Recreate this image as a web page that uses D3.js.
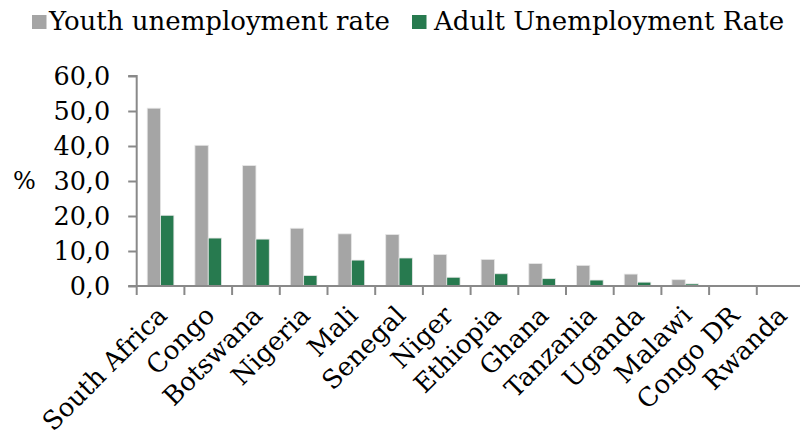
<!DOCTYPE html>
<html>
<head>
<meta charset="utf-8">
<script src="https://cdn.jsdelivr.net/npm/d3@7"></script>
<style>
  html, body { margin: 0; padding: 0; background: #fff; }
  svg { display: block; }
  text { font-family: "DejaVu Serif", Georgia, serif; fill: #000; }
</style>
</head>
<body>
<svg id="chart" width="800" height="439"></svg>
<script>
const categories = ["South Africa", "Congo", "Botswana", "Nigeria", "Mali", "Senegal", "Niger",
  "Ethiopia", "Ghana", "Tanzania", "Uganda", "Malawi", "Congo DR", "Rwanda"];
const seriesNames = ["Youth unemployment rate", "Adult Unemployment Rate"];
const youth = [50.8, 40.2, 34.4, 16.5, 14.9, 14.7, 9.0, 7.6, 6.4, 5.9, 3.4, 1.8, 0.0, 0.0];
const adult = [20.2, 13.7, 13.4, 3.0, 7.4, 8.0, 2.5, 3.5, 2.1, 1.7, 1.1, 0.6, 0.0, 0.0];
const yTicks = [0, 10, 20, 30, 40, 50, 60];
const colors = ["#a5a5a5", "#277a4f"];

const svg = d3.select("#chart");
const axisColor = "#898989";

const x0 = d3.scaleBand().domain(categories).range([136.7, 804.5]).padding(0);
const x1 = d3.scaleBand().domain(seriesNames).range([0, x0.bandwidth()]).paddingInner(0).paddingOuter(0.79);
const y = d3.scaleLinear().domain([0, 60]).range([286, 76]);

const data = categories.map((c, i) => ({ cat: c, vals: [youth[i], adult[i]] }));

// bars
const g = svg.append("g");
data.forEach(d => {
  d.vals.forEach((v, j) => {
    if (v <= 0) return;
    g.append("rect")
      .attr("x", x0(d.cat) + x1(seriesNames[j]))
      .attr("y", y(v))
      .attr("width", x1.bandwidth())
      .attr("height", y(0) - y(v))
      .attr("fill", colors[j])
      .attr("stroke", "#e6e6e6")
      .attr("stroke-width", 0.8);
  });
});

// y axis
const yAxis = d3.axisLeft(y).tickValues(yTicks).tickSize(8.5).tickPadding(18)
  .tickFormat(d => d3.format(".1f")(d).replace(".", ","));
const yg = svg.append("g").attr("transform", "translate(136.7,0)").call(yAxis);
yg.select(".domain").attr("stroke", axisColor).attr("stroke-width", 2).attr("d", "M-8.5,76H0V286");
yg.selectAll(".tick line").attr("stroke", axisColor).attr("stroke-width", 2);
yg.selectAll(".tick text").attr("font-family", "DejaVu Serif").attr("font-size", 25.5).attr("fill", "#000");

// x axis
const xg = svg.append("g").attr("transform", "translate(0,286)");
xg.append("line").attr("x1", 128.2).attr("x2", 800).attr("y1", 0).attr("y2", 0)
  .attr("stroke", axisColor).attr("stroke-width", 2);
categories.concat(["__end"]).forEach((c, i) => {
  const xx = i < categories.length ? x0(c) : x0.range()[1];
  if (xx > 800) return;
  xg.append("line").attr("x1", xx).attr("x2", xx).attr("y1", 0).attr("y2", 9)
    .attr("stroke", axisColor).attr("stroke-width", 2);
});
categories.forEach(c => {
  const cx = x0(c) + x0.bandwidth() / 2;
  svg.append("text")
    .attr("transform", `translate(${cx + 8},317) rotate(-45)`)
    .attr("text-anchor", "end")
    .attr("font-size", 25.8)
    .text(c);
});

// % label
svg.append("text").attr("x", 13).attr("y", y(30)).attr("dy", "0.35em")
  .attr("font-size", 24).text("%");

// legend
const legendX = [32, 412];
const legendTextX = [49, 434];
seriesNames.forEach((s, j) => {
  svg.append("rect").attr("x", legendX[j]).attr("y", 15).attr("width", 14.5).attr("height", 14)
    .attr("fill", colors[j]);
  svg.append("text").attr("x", legendTextX[j]).attr("y", 29.5)
    .attr("font-size", 26).text(s);
});
</script>
</body>
</html>
